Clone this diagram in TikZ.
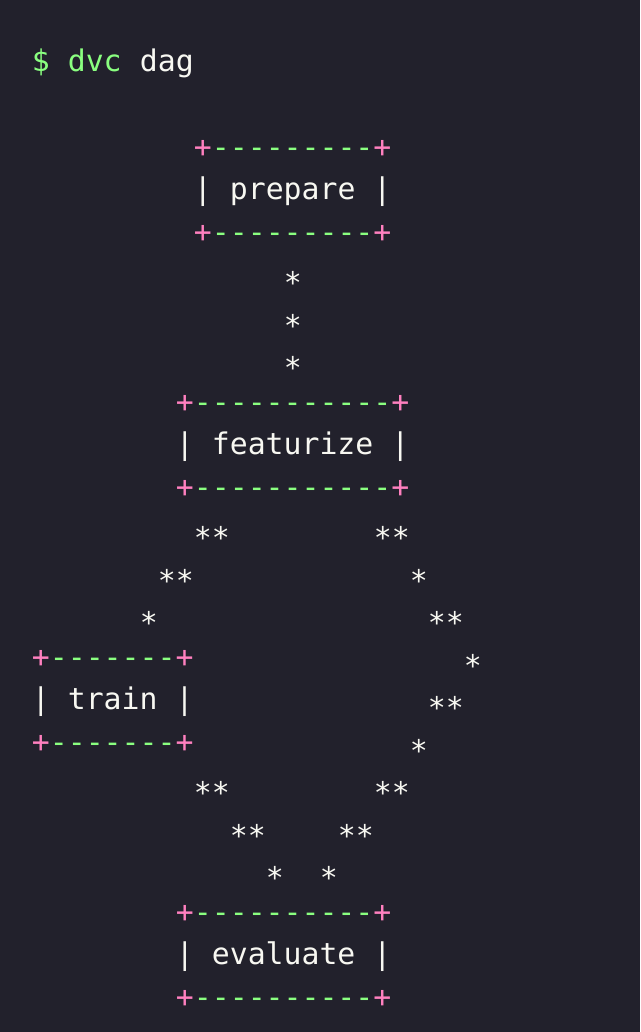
\documentclass[tikz,border=0pt]{standalone}
\usepackage{fontspec}
\setmonofont{DejaVu Sans Mono}
\definecolor{termbg}{HTML}{22212C}
\definecolor{termfg}{HTML}{F8F8F2}
\definecolor{termgreen}{HTML}{8AFF80}
\definecolor{termpink}{HTML}{FF80BF}
\newcommand{\boxline}[1]{\textcolor{termpink}{+}\textcolor{termgreen}{#1}\textcolor{termpink}{+}}
\begin{document}
\begin{tikzpicture}[x=0.45cm,y=-1.0625cm,
    term/.style={anchor=base west,inner sep=0pt,text=termfg,
        font=\ttfamily\fontsize{21.2}{25}\selectfont},
    star/.style={term,yshift=-6.7pt}]
        %% background
        \fill[termbg] (-1.761,-1.694) rectangle (33.8,22.588);
        \useasboundingbox (-1.761,-1.694) rectangle (33.8,22.588);
        %% command
        \node[term,text=termgreen] (prompt) at (0,0) {\$ dvc};
        \node[term] (cmd) at (6,0) {dag};
        %% stages
        \node[term] (prepareTop) at (9,2) {\boxline{---------}};
        \node[term] (prepare) at (9,3) {| prepare |};
        \node[term] (prepareBot) at (9,4) {\boxline{---------}};
        \node[term] (featurizeTop) at (8,8) {\boxline{-----------}};
        \node[term] (featurize) at (8,9) {| featurize |};
        \node[term] (featurizeBot) at (8,10) {\boxline{-----------}};
        \node[term] (trainTop) at (0,14) {\boxline{-------}};
        \node[term] (train) at (0,15) {| train |};
        \node[term] (trainBot) at (0,16) {\boxline{-------}};
        \node[term] (evaluateTop) at (8,20) {\boxline{----------}};
        \node[term] (evaluate) at (8,21) {| evaluate |};
        \node[term] (evaluateBot) at (8,22) {\boxline{----------}};
        %% edges
        \foreach \r in {5,6,7}
            \node[star] (pf\r) at (14,\r) {*};
        \foreach \c/\r/\s [count=\i] in {9/11/**,7/12/**,6/13/*}
            \node[star] (ft\i) at (\c,\r) {\s};
        \foreach \c/\r/\s [count=\i] in {19/11/**,21/12/*,22/13/**,24/14/*,22/15/**,21/16/*,19/17/**,17/18/**,16/19/*}
            \node[star] (fe\i) at (\c,\r) {\s};
        \foreach \c/\r/\s [count=\i] in {9/17/**,11/18/**,13/19/*}
            \node[star] (te\i) at (\c,\r) {\s};
    \end{tikzpicture}
\end{document}
